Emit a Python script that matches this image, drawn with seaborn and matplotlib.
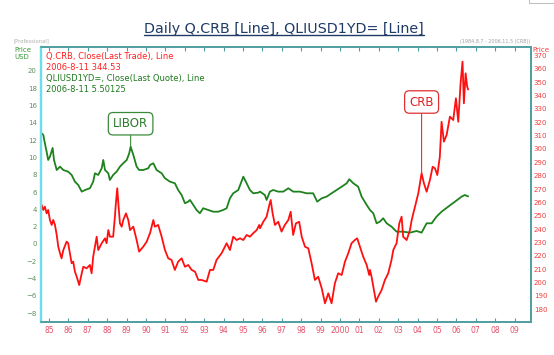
import pandas as pd
import seaborn as sns
import matplotlib.pyplot as plt
from matplotlib.lines import Line2D
from matplotlib.patches import Rectangle

# 1-year USD LIBOR (left axis)
libor_years = [1984.62, 1984.71, 1984.79, 1984.88, 1984.96, 1985.05, 1985.19, 1985.26, 1985.40, 1985.57,
               1985.74, 1985.99, 1986.17, 1986.34, 1986.51, 1986.69, 1986.86, 1987.11, 1987.28, 1987.37,
               1987.54, 1987.72, 1987.80, 1987.89, 1988.06, 1988.14, 1988.31, 1988.49, 1988.66, 1988.83,
               1989.01, 1989.14, 1989.21, 1989.35, 1989.52, 1989.65, 1989.86, 1990.12, 1990.21, 1990.38,
               1990.55, 1990.81, 1990.98, 1991.24, 1991.49, 1991.66, 1991.84, 1992.01, 1992.18, 1992.27,
               1992.44, 1992.61, 1992.78, 1992.95, 1993.21, 1993.47, 1993.73, 1993.98, 1994.16, 1994.33,
               1994.50, 1994.76, 1995.02, 1995.19, 1995.36, 1995.53, 1995.79, 1995.88, 1996.13, 1996.22,
               1996.39, 1996.56, 1996.82, 1997.08, 1997.34, 1997.59, 1997.94, 1998.28, 1998.62, 1998.83,
               1999.06, 1999.31, 1999.57, 1999.83, 2000.09, 2000.35, 2000.48, 2000.69, 2000.94, 2001.12,
               2001.38, 2001.55, 2001.72, 2001.89, 2002.06, 2002.23, 2002.41, 2002.66, 2002.92, 2003.26,
               2003.61, 2003.95, 2004.21, 2004.47, 2004.73, 2004.98, 2005.24, 2005.58, 2005.93, 2006.27,
               2006.44, 2006.61]
libor_rate = [12.80, 12.60, 11.64, 10.67, 9.71, 10.09, 11.10, 9.71, 8.55, 8.94,
              8.55, 8.36, 7.98, 7.20, 6.82, 6.05, 6.24, 6.44, 7.20, 8.17,
              7.98, 8.75, 9.71, 8.55, 8.17, 7.40, 7.98, 8.36, 8.94, 9.33,
              9.71, 10.49, 11.25, 10.29, 8.94, 8.55, 8.55, 8.75, 9.13, 9.33,
              8.55, 8.17, 7.60, 7.20, 7.02, 6.24, 5.66, 4.71, 4.89, 5.09,
              4.51, 3.93, 3.55, 4.13, 3.93, 3.73, 3.73, 3.93, 4.13, 5.28,
              5.86, 6.24, 7.78, 7.02, 6.24, 5.86, 5.93, 6.05, 5.66, 5.09,
              6.05, 6.24, 6.05, 6.05, 6.44, 6.05, 6.05, 5.86, 5.86, 4.89,
              5.28, 5.47, 5.86, 6.24, 6.62, 7.02, 7.48, 7.02, 6.62, 5.47,
              4.51, 3.93, 3.55, 2.39, 2.58, 2.97, 2.39, 2.00, 1.42, 1.42,
              1.31, 1.50, 1.31, 2.39, 2.39, 3.16, 3.73, 4.31, 4.89, 5.47,
              5.66, 5.50]

# CRB index close (right axis)
crb_years = [1984.62, 1984.71, 1984.79, 1984.88, 1984.96, 1985.05, 1985.14, 1985.22, 1985.31, 1985.40,
             1985.48, 1985.57, 1985.65, 1985.74, 1985.91, 1985.99, 1986.08, 1986.17, 1986.25, 1986.34,
             1986.43, 1986.56, 1986.69, 1986.77, 1986.94, 1987.11, 1987.20, 1987.28, 1987.37, 1987.46,
             1987.54, 1987.72, 1987.89, 1987.97, 1988.06, 1988.14, 1988.31, 1988.40, 1988.45, 1988.52,
             1988.59, 1988.66, 1988.75, 1988.83, 1988.97, 1989.09, 1989.18, 1989.35, 1989.52, 1989.65,
             1989.86, 1990.04, 1990.17, 1990.21, 1990.38, 1990.46, 1990.63, 1990.81, 1990.98, 1991.15,
             1991.32, 1991.49, 1991.66, 1991.84, 1992.01, 1992.18, 1992.36, 1992.53, 1992.70, 1992.87,
             1993.13, 1993.30, 1993.47, 1993.64, 1993.90, 1994.16, 1994.33, 1994.50, 1994.68, 1994.85,
             1995.02, 1995.19, 1995.36, 1995.53, 1995.71, 1995.84, 1995.88, 1996.05, 1996.22, 1996.36,
             1996.43, 1996.53, 1996.65, 1996.82, 1996.99, 1997.16, 1997.34, 1997.46, 1997.59, 1997.73,
             1997.90, 1998.03, 1998.20, 1998.37, 1998.54, 1998.71, 1998.88, 1999.06, 1999.23, 1999.40,
             1999.57, 1999.74, 1999.91, 2000.09, 2000.26, 2000.43, 2000.60, 2000.77, 2000.89, 2001.03,
             2001.20, 2001.38, 2001.51, 2001.55, 2001.63, 2001.75, 2001.86, 2001.97, 2002.15, 2002.32,
             2002.49, 2002.66, 2002.75, 2002.92, 2003.06, 2003.18, 2003.26, 2003.44, 2003.61, 2003.70,
             2003.87, 2004.04, 2004.21, 2004.33, 2004.47, 2004.64, 2004.78, 2004.90, 2005.02, 2005.15,
             2005.24, 2005.36, 2005.50, 2005.67, 2005.84, 2005.98, 2006.10, 2006.22, 2006.32, 2006.39,
             2006.48, 2006.56, 2006.61]
crb_close = [258.1, 254.3, 256.8, 251.8, 254.3, 246.8, 243.1, 246.8, 243.1, 235.6,
             226.8, 221.9, 218.1, 224.3, 230.6, 229.4, 221.9, 214.4, 215.6, 208.1,
             204.3, 198.1, 206.9, 211.8, 210.6, 213.1, 206.9, 219.3, 226.8, 234.3,
             224.3, 229.4, 233.1, 229.4, 239.3, 234.3, 234.3, 249.3, 259.3, 270.6,
             256.8, 244.3, 241.8, 246.8, 251.8, 246.8, 239.3, 241.8, 231.8, 223.1,
             226.8, 230.6, 235.6, 236.9, 246.8, 241.8, 243.1, 234.3, 224.3, 218.1,
             216.9, 209.4, 215.6, 218.1, 211.8, 213.1, 209.4, 208.1, 201.9, 201.9,
             200.6, 209.4, 209.4, 216.9, 221.9, 229.4, 224.3, 234.3, 231.8, 233.1,
             231.8, 235.6, 234.3, 236.9, 239.3, 243.1, 240.6, 245.5, 249.3, 258.1,
             261.8, 251.8, 243.1, 245.5, 238.1, 243.1, 246.8, 253.0, 235.6, 244.3,
             245.5, 234.3, 226.8, 225.6, 214.4, 201.9, 204.3, 195.7, 184.4, 191.9,
             184.4, 199.4, 206.9, 205.6, 215.6, 221.9, 229.4, 231.8, 233.1, 226.8,
             219.3, 213.1, 205.6, 209.4, 204.3, 194.4, 185.6, 189.4, 194.4, 201.9,
             206.9, 216.9, 224.3, 229.4, 244.3, 249.3, 234.3, 231.8, 239.3, 246.8,
             256.8, 266.8, 281.8, 274.3, 268.0, 276.8, 286.7, 285.5, 280.5, 294.2,
             320.4, 305.5, 310.5, 324.2, 321.7, 338.0, 320.4, 349.2, 365.4, 334.2,
             356.7, 346.7, 344.53]

year_ticks = list(range(1985, 2010))
year_labels = ['85', '86', '87', '88', '89', '90', '91', '92', '93', '94', '95', '96', '97',
               '98', '99', '2000', '01', '02', '03', '04', '05', '06', '07', '08', '09']
left_ticks = list(range(-8, 21, 2))
right_ticks = list(range(180, 371, 10))

W, H = 554, 355


def fx(px):
    return px / W


def fy(py):
    return 1 - py / H


sns.set_theme(style="white")
plt.rcParams['font.family'] = ['DejaVu Sans']

fig = plt.figure(figsize=(W / 100, H / 100), dpi=100)
ax = fig.add_axes([fx(41), fy(322), fx(531) - fx(41), fy(47) - fy(322)])
ax2 = ax.twinx()

libor = pd.DataFrame({'year': libor_years, 'rate': libor_rate})
crb = pd.DataFrame({'year': crb_years, 'close': crb_close})
sns.lineplot(data=libor, x='year', y='rate', ax=ax, color='#1e821e', lw=1.3, sort=False)
sns.lineplot(data=crb, x='year', y='close', ax=ax2, color='#ff1010', lw=1.3, sort=False)

ax.set_xlim(1984.59, 2009.85)
ax.set_ylim(-9.02, 22.77)
ax2.set_ylim(170.4, 376.4)
for a in (ax, ax2):
    a.set_xlabel('')
    a.set_ylabel('')
    a.grid(False)
    for side, sp in a.spines.items():
        sp.set_visible(True)
        sp.set_color('#4f9ea0')
        sp.set_linewidth(1.2)
    a.spines['left'].set_color('#6fdcec')
    a.spines['left'].set_linewidth(1.6)

ax.set_xticks(year_ticks, year_labels)
ax.tick_params(axis='x', direction='in', length=3, width=0.8, color='#4f9ea0',
               labelsize=5.5, labelcolor='#e8506a', top=True, bottom=True, pad=3)
ax.set_yticks(left_ticks)
ax.tick_params(axis='y', length=0, labelsize=5, labelcolor='#5f8f5f', pad=3)
ax2.set_yticks(right_ticks)
ax2.tick_params(axis='y', length=0, labelsize=5, labelcolor='#f03c3c', pad=2)

# callouts
i = libor_rate.index(max(libor_rate[25:40]))
ax.annotate('LIBOR', xy=(libor_years[i], libor_rate[i]), xytext=(libor_years[i], 13.9),
            ha='center', va='center', fontsize=8.5, color='#2a7a2a',
            bbox=dict(boxstyle='round,pad=0.4', fc='white', ec='#3a8a3a', lw=0.9),
            arrowprops=dict(arrowstyle='-', color='#3a8a3a', lw=0.8, shrinkA=0, shrinkB=0))
j = crb_years.index(2004.21)
ax2.annotate('CRB', xy=(crb_years[j], crb_close[j]), xytext=(crb_years[j], 335.2),
             ha='center', va='center', fontsize=8.5, color='#e02020',
             bbox=dict(boxstyle='round,pad=0.4', fc='white', ec='#e03030', lw=0.9),
             arrowprops=dict(arrowstyle='-', color='#e03030', lw=0.8, shrinkA=0, shrinkB=0))

# header texts
title = fig.text(fx(284), fy(29), 'Daily Q.CRB [Line], QLIUSD1YD= [Line]', ha='center', va='center',
                 fontsize=10.3, color='#1f3a66')
fig.text(fx(14), fy(41), '[Professional]', fontsize=3.8, color='#b0b0b0', va='center')
fig.text(fx(14), fy(50), 'Price', fontsize=5, color='#3a9a3a', va='center')
fig.text(fx(14), fy(57), 'USD', fontsize=5, color='#3a9a3a', va='center')
fig.text(fx(532), fy(50), 'Price', fontsize=5, color='#f03c3c', va='center')
fig.text(fx(530), fy(41.5), '(1984.8.7 - 2006.11.5 (CRB))', fontsize=3.5, color='#a0a0a0',
         ha='right', va='center')

fig.text(fx(46), fy(57), 'Q.CRB, Close(Last Trade), Line', fontsize=6, color='#ff2020', va='center')
fig.text(fx(46), fy(68), '2006-8-11 344.53', fontsize=6, color='#ff2020', va='center')
fig.text(fx(46), fy(79), 'QLIUSD1YD=, Close(Last Quote), Line', fontsize=6, color='#1e7a1e', va='center')
fig.text(fx(46), fy(89), '2006-8-11 5.50125', fontsize=6, color='#1e7a1e', va='center')

fig.add_artist(Rectangle((fx(529), fy(3)), fx(30), 10 / H, transform=fig.transFigure,
                         fill=False, edgecolor='#c0c0c0', lw=0.8, clip_on=False))

fig.canvas.draw()
bb = title.get_window_extent()
fig.add_artist(Line2D([bb.x0 / W, bb.x1 / W], [(bb.y0 + 1) / H] * 2, transform=fig.transFigure,
                      color='#1f3a66', lw=1.0))

fig.savefig('out.png', dpi=100)
